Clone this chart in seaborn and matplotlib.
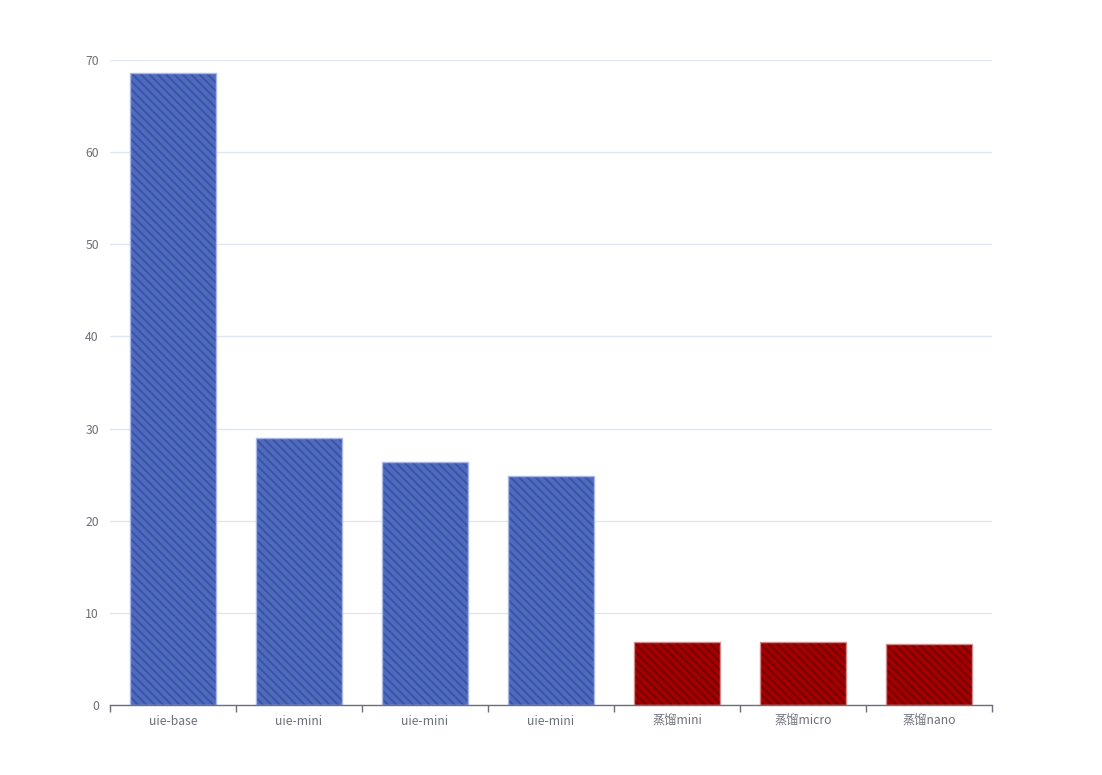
import matplotlib
matplotlib.use("Agg")
import matplotlib.pyplot as plt
import seaborn as sns
import pandas as pd
from matplotlib.ticker import FixedLocator

labels = ["uie-base", "uie-mini", "uie-mini", "uie-mini", "蒸馏mini", "蒸馏micro", "蒸馏nano"]
values = [68.6, 29.0, 26.4, 24.9, 6.84, 6.79, 6.62]
groups = ["uie", "uie", "uie", "uie", "distill", "distill", "distill"]
y_ticks = [0, 10, 20, 30, 40, 50, 60, 70]

fill_colors = {"uie": "#4e6bc4", "distill": "#a40000"}
hatch_colors = {"uie": "#3e559e", "distill": "#780000"}
edge_colors = {"uie": "#a9b7e6", "distill": "#d08a8a"}

sns.set_theme(style="white")
plt.rcParams["font.family"] = ["Noto Sans CJK SC", "DejaVu Sans"]
plt.rcParams["hatch.linewidth"] = 1.5

df = pd.DataFrame({"pos": [str(i) for i in range(len(labels))], "value": values, "group": groups})

fig = plt.figure(figsize=(11.02, 7.75), dpi=100)
ax = fig.add_axes([110 / 1102, 70 / 775, 882 / 1102, 645 / 775])

sns.barplot(data=df, x="pos", y="value", hue="group", palette=fill_colors,
            width=0.68, dodge=False, legend=False, ax=ax, saturation=1, zorder=2)
for patch, g in zip(ax.patches, groups):
    patch.set_hatch("\\\\\\\\")
    patch.set_edgecolor(hatch_colors[g])
    patch.set_linewidth(0)

sns.barplot(data=df, x="pos", y="value", hue="group", palette=edge_colors,
            width=0.68, dodge=False, legend=False, ax=ax, fill=False, saturation=1,
            linewidth=1.0, zorder=3)

ax.set_xlim(-0.5, len(labels) - 0.5)
ax.set_ylim(0, 70)
ax.set_yticks(y_ticks)
ax.set_yticklabels([str(t) for t in y_ticks])
ax.set_xticks(range(len(labels)))
ax.set_xticklabels(labels)
ax.xaxis.set_minor_locator(FixedLocator([i - 0.5 for i in range(len(labels) + 1)]))
ax.tick_params(axis="x", which="major", bottom=True, length=0, pad=7, labelsize=8.8, labelcolor="#6e7079")
ax.tick_params(axis="x", which="minor", bottom=True, length=5, width=1, color="#6e7079", direction="out")
ax.tick_params(axis="y", length=0, pad=8, labelsize=8.8, labelcolor="#6e7079")
ax.set_xlabel("")
ax.set_ylabel("")

ax.yaxis.grid(True, color="#e0e6f1", linewidth=1)
ax.set_axisbelow(True)
for s in ["top", "right", "left"]:
    ax.spines[s].set_visible(False)
ax.spines["bottom"].set_color("#6e7079")
ax.spines["bottom"].set_linewidth(1)
ax.spines["bottom"].set_zorder(5)

fig.savefig("out.png", dpi=100)
